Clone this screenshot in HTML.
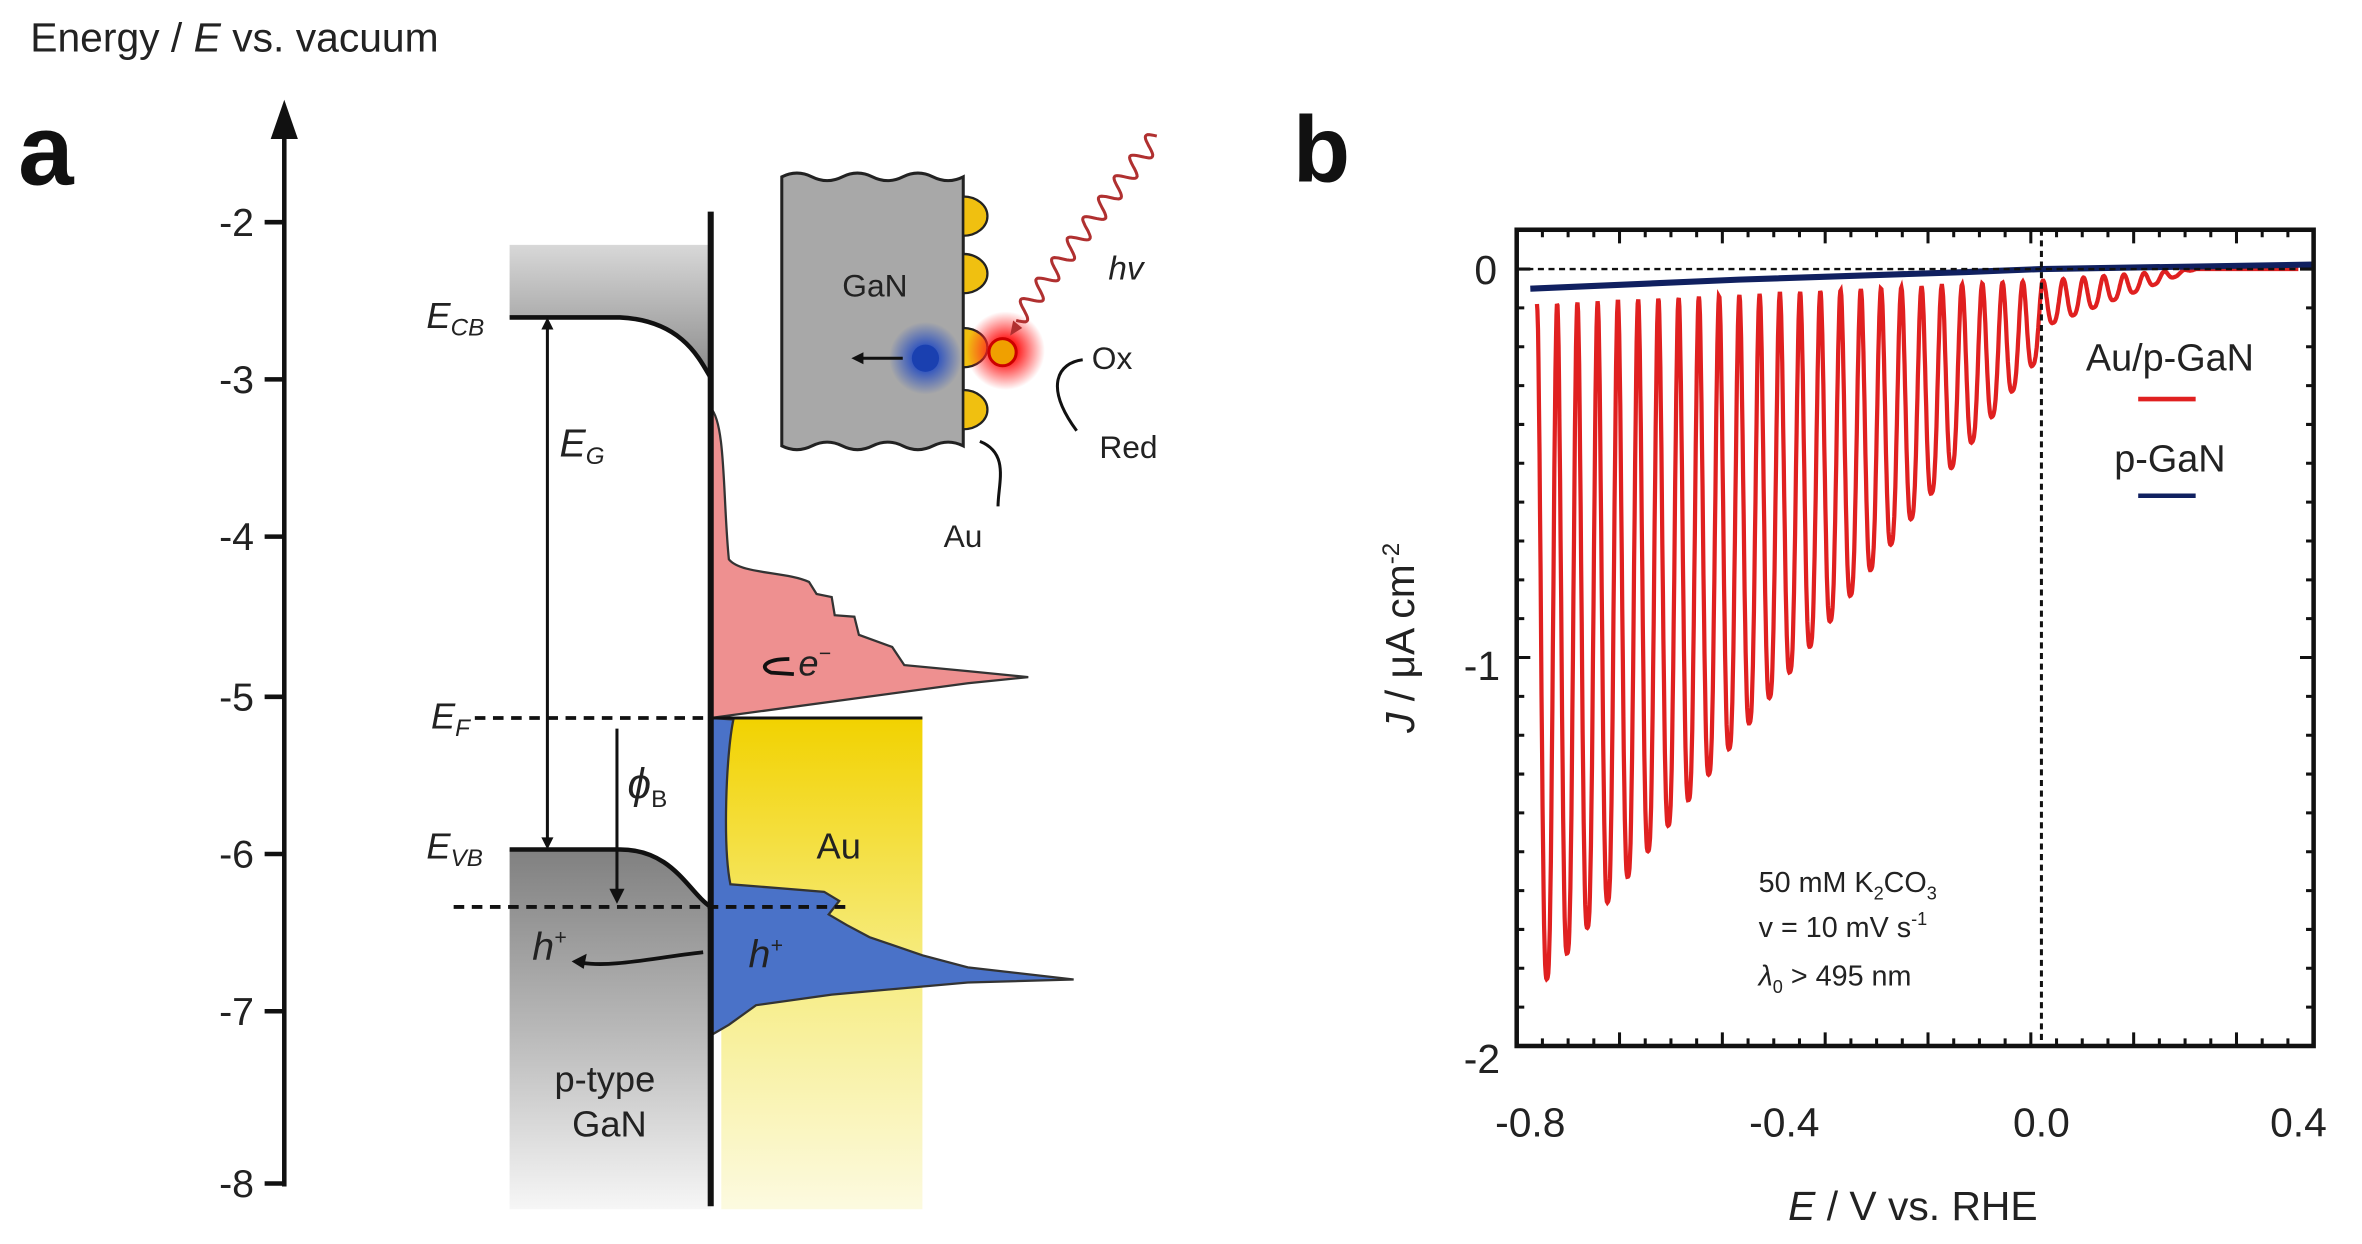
<!DOCTYPE html>
<html><head><meta charset="utf-8"><style>
html,body{margin:0;padding:0;background:#fff;}
svg{display:block;}
text{font-family:"Liberation Sans",sans-serif;}
</style></head><body>
<svg id="s" width="2362" height="1244" viewBox="0 0 1562 823" preserveAspectRatio="none" xmlns="http://www.w3.org/2000/svg">
<defs>
<linearGradient id="gcb" x1="0" y1="0" x2="0" y2="1"><stop offset="0" stop-color="#d8d8d8"/><stop offset="1" stop-color="#8a8a8a"/></linearGradient>
<linearGradient id="gvb" x1="0" y1="0" x2="0" y2="1"><stop offset="0" stop-color="#808080"/><stop offset="0.5" stop-color="#b8b8b8"/><stop offset="1" stop-color="#f6f6f6"/></linearGradient>
<linearGradient id="gau" x1="0" y1="0" x2="0" y2="1"><stop offset="0" stop-color="#f2d200"/><stop offset="0.5" stop-color="#f6ec80"/><stop offset="1" stop-color="#fcfae0"/></linearGradient>
<radialGradient id="gblue"><stop offset="0.3" stop-color="#2a50c0"/><stop offset="1" stop-color="#2a50c0" stop-opacity="0"/></radialGradient>
<radialGradient id="gred"><stop offset="0.3" stop-color="#ff2020"/><stop offset="1" stop-color="#ff2020" stop-opacity="0"/></radialGradient>
</defs>
<text x="20" y="34" font-size="27" fill="#222">Energy / <tspan font-style="italic">E</tspan> vs. vacuum</text>
<text x="12" y="122" font-size="66" font-weight="bold" font-family="Liberation Serif" fill="#111">a</text>
<line x1="188" y1="80" x2="188" y2="785" stroke="#111" stroke-width="3"/>
<path d="M188 66 L179 92 L197 92 Z" fill="#111"/>
<g stroke="#111" stroke-width="3">
<line x1="175" y1="147" x2="188" y2="147"/><line x1="175" y1="251" x2="188" y2="251"/><line x1="175" y1="355" x2="188" y2="355"/><line x1="175" y1="461" x2="188" y2="461"/><line x1="175" y1="565" x2="188" y2="565"/><line x1="175" y1="669" x2="188" y2="669"/><line x1="175" y1="783" x2="188" y2="783"/></g>
<g font-size="26" text-anchor="end" fill="#222">
<text x="168" y="156">-2</text><text x="168" y="260">-3</text><text x="168" y="364">-4</text><text x="168" y="470">-5</text><text x="168" y="574">-6</text><text x="168" y="678">-7</text><text x="168" y="792">-8</text></g>
<path d="M337 162 L470 162 L470 250 C462 236 450 212 410 210 L337 210 Z" fill="url(#gcb)"/>
<path d="M337 210 L410 210 C450 212 462 236 470 250" fill="none" stroke="#111" stroke-width="3"/>
<path d="M337 562 L410 562 C445 562 455 590 470 600 L470 800 L337 800 Z" fill="url(#gvb)"/>
<path d="M337 562 L410 562 C445 562 455 590 470 600" fill="none" stroke="#111" stroke-width="3"/>
<rect x="477" y="475" width="133" height="325" fill="url(#gau)"/>
<path d="M470 270 C480 280 478 330 482 370 C490 380 520 378 535 385 L540 393 L550 395 L552 407 L565 408 L568 420 L590 428 L598 440 L640 444 L680 448 L640 452 L470 475 Z" fill="#ee9090" stroke="#333" stroke-width="1.5"/>
<path d="M470 475 L485 476 C480 500 478 560 483 585 L545 590 L555 596 L548 605 L560 612 L575 620 L610 632 L640 640 L710 648 L640 650 L550 658 L500 665 L482 678 L470 685 Z" fill="#4a72c8" stroke="#333" stroke-width="1.5"/>
<line x1="470" y1="140" x2="470" y2="798" stroke="#111" stroke-width="4"/>
<line x1="314" y1="475" x2="470" y2="475" stroke="#111" stroke-width="2.5" stroke-dasharray="7,5"/>
<line x1="470" y1="475" x2="610" y2="475" stroke="#111" stroke-width="2"/>
<line x1="300" y1="600" x2="560" y2="600" stroke="#111" stroke-width="2.5" stroke-dasharray="7,5"/>
<line x1="362" y1="212" x2="362" y2="558" stroke="#111" stroke-width="2"/>
<path d="M362 210 l-4 8 h8 Z M362 562 l-4 -8 h8 Z" fill="#111"/>
<line x1="408" y1="482" x2="408" y2="592" stroke="#111" stroke-width="2"/>
<path d="M408 598 l-5 -10 h10 Z" fill="#111"/>
<g font-style="italic" fill="#222">
<text x="282" y="217" font-size="24">E<tspan font-size="16" dy="5">CB</tspan></text>
<text x="370" y="302" font-size="26">E<tspan font-size="16" dy="5">G</tspan></text>
<text x="285" y="482" font-size="24">E<tspan font-size="16" dy="5">F</tspan></text>
<text x="282" y="568" font-size="24">E<tspan font-size="16" dy="5">VB</tspan></text>
<text x="415" y="528" font-size="28">ϕ<tspan font-size="16" font-style="normal" dy="6">B</tspan></text>
<text x="352" y="635" font-size="26">h<tspan font-size="14" dy="-10">+</tspan></text>
<text x="495" y="640" font-size="26">h<tspan font-size="14" dy="-10">+</tspan></text>
<text x="528" y="447" font-size="24">e<tspan font-size="14" dy="-10">−</tspan></text>
</g>
<path d="M522 436 C505 436 502 442 510 445 L525 446" fill="none" stroke="#111" stroke-width="2.5"/>
<path d="M465 630 C430 634 405 640 385 637" fill="none" stroke="#111" stroke-width="2.5"/>
<path d="M378 636 l10 -5 l-2 10 Z" fill="#111"/>
<text x="540" y="568" font-size="24" fill="#222">Au</text>
<text x="400" y="722" font-size="24" text-anchor="middle" fill="#222">p-type</text>
<text x="403" y="752" font-size="24" text-anchor="middle" fill="#222">GaN</text>
<path d="M517 117 q10 -5 20 0 t20 0 t20 0 t20 0 t20 0 t20 0 L637 295 q-10 -5 -20 0 t-20 0 t-20 0 t-20 0 t-20 0 t-20 0 Z" fill="#a8a8a8" stroke="#222" stroke-width="2"/>
<g fill="#f0c010" stroke="#222" stroke-width="1.5">
<path d="M637 130 a16 13 0 0 1 0 26 Z"/><path d="M637 168 a16 13 0 0 1 0 26 Z"/><path d="M637 217 a16 13 0 0 1 0 26 Z"/><path d="M637 258 a16 13 0 0 1 0 26 Z"/></g>
<circle cx="612" cy="237" r="24" fill="url(#gblue)"/>
<circle cx="612" cy="237" r="9" fill="#1a40b0"/>
<circle cx="665" cy="232" r="26" fill="url(#gred)"/>
<circle cx="663" cy="233" r="9" fill="#f0a000" stroke="#c00" stroke-width="2"/>
<line x1="597" y1="237" x2="568" y2="237" stroke="#111" stroke-width="2"/>
<path d="M563 237 l8 -4 v8 Z" fill="#111"/>
<text x="557" y="196" font-size="21" fill="#222">GaN</text>
<path id="hv" d="" fill="none" stroke="#b03030" stroke-width="2"/>
<path d="M670 212 l-2 10 l8 -5 Z" fill="#b03030"/>
<text x="733" y="185" font-size="22" font-style="italic" fill="#222">hv</text>
<text x="722" y="244" font-size="21" fill="#222">Ox</text>
<text x="727" y="303" font-size="21" fill="#222">Red</text>
<text x="624" y="362" font-size="21" fill="#222">Au</text>
<path d="M716 238 C700 240 690 255 712 285" fill="none" stroke="#111" stroke-width="2"/>
<path d="M648 292 C668 300 660 320 660 335" fill="none" stroke="#111" stroke-width="2"/>
<text x="855" y="120" font-size="62" font-weight="bold" font-family="Liberation Serif" fill="#111">b</text>
<g id="plot"></g>
<rect x="1003" y="152" width="527" height="540" fill="none" stroke="#111" stroke-width="3"/>
<line x1="1003" y1="178" x2="1530" y2="178" stroke="#111" stroke-width="1.5" stroke-dasharray="4,3"/>
<line x1="1350" y1="152" x2="1350" y2="692" stroke="#111" stroke-width="2" stroke-dasharray="4,3"/>
<g font-size="27" fill="#222">
<text x="990" y="188" text-anchor="end">0</text><text x="992" y="450" text-anchor="end">-1</text><text x="992" y="710" text-anchor="end">-2</text>
<text x="1012" y="752" text-anchor="middle">-0.8</text><text x="1180" y="752" text-anchor="middle">-0.4</text><text x="1350" y="752" text-anchor="middle">0.0</text><text x="1520" y="752" text-anchor="middle">0.4</text>
<text x="1265" y="807" text-anchor="middle"><tspan font-style="italic">E</tspan> / V vs. RHE</text>
<text transform="translate(935 422) rotate(-90)" text-anchor="middle"><tspan font-style="italic">J</tspan> / μA cm<tspan font-size="16" dy="-10">-2</tspan></text>
<text x="1435" y="245" text-anchor="middle" font-size="25">Au/p-GaN</text>
<text x="1435" y="312" text-anchor="middle" font-size="25">p-GaN</text>
</g>
<line x1="1414" y1="264" x2="1452" y2="264" stroke="#e02020" stroke-width="3"/>
<line x1="1414" y1="328" x2="1452" y2="328" stroke="#102060" stroke-width="3"/>
<g font-size="19" fill="#222">
<text x="1163" y="590">50 mM K<tspan font-size="12" dy="5">2</tspan><tspan dy="-5">CO</tspan><tspan font-size="12" dy="5">3</tspan></text>
<text x="1163" y="620">v = 10 mV s<tspan font-size="12" dy="-8">-1</tspan></text>
<text x="1163" y="652"><tspan font-style="italic">λ</tspan><tspan font-size="12" dy="5">0</tspan><tspan dy="-5"> &gt; 495 nm</tspan></text>
</g>
<g id="ticks" stroke="#111" stroke-width="2"></g>
</svg>
<script>
(function(){
var ns="http://www.w3.org/2000/svg";
function X(v){return 1010+(v+0.8)*425;}
function Y(j){return 178-j*257;}
var p=[],per=0.0315,start=-0.785;
for(var v=start;v<=0.4;v+=0.0008){
  var ph=((v-start)%per)/per;
  var f=1-Math.pow(Math.abs(Math.cos(Math.PI*ph)),3);
  var jv;
  if(v<=0){
    var env=-0.22+(v/start)*(-1.86+0.22);
    var top=-0.09+(v-start)/(-start)*0.06;
    jv=top+(env-top)*f;
  } else {
    var a=Math.max(0,1-v/0.24);
    jv=-0.03*a-(0.12*a)*f;
    if(v>0.24)jv=0;
  }
  p.push(X(v).toFixed(1)+","+Y(jv).toFixed(1));
}
var g=document.getElementById("plot");
var pl=document.createElementNS(ns,"polyline");
pl.setAttribute("points",p.join(" "));pl.setAttribute("fill","none");pl.setAttribute("stroke","#e02020");pl.setAttribute("stroke-width","2.8");
g.appendChild(pl);
var b=document.createElementNS(ns,"path");
b.setAttribute("d","M1012 191 L1150 185 L1300 180 L1350 178 L1530 175");b.setAttribute("fill","none");b.setAttribute("stroke","#102060");b.setAttribute("stroke-width","4");
g.appendChild(b);
var t=document.getElementById("ticks"),i,s="";
for(i=0;i<=31;i++){var x=1003+i*17;s+="M"+x+" 152v"+(i%4==0?9:5)+"M"+x+" 692v-"+(i%4==0?9:5);}
for(i=0;i<=20;i++){var y=178+i*25.7;if(y<=692)s+="M1003 "+y+"h"+(i%10==0?9:5)+"M1530 "+y+"h-"+(i%10==0?9:5);}
var tp=document.createElementNS(ns,"path");tp.setAttribute("d",s);tp.setAttribute("fill","none");t.appendChild(tp);
var x0=765,y0=90,x1=672,y1=212,dx=x1-x0,dy=y1-y0,L=Math.sqrt(dx*dx+dy*dy),ux=dx/L,uy=dy/L,nx=-uy,ny=ux,d="";
for(var k=0;k<=200;k++){var tt=k/200*L;var o=6*Math.sin(tt/L*2*Math.PI*9);d+=(k?"L":"M")+(x0+ux*tt+nx*o).toFixed(1)+" "+(y0+uy*tt+ny*o).toFixed(1);}
document.getElementById("hv").setAttribute("d",d);
})();
</script>
</body></html>
